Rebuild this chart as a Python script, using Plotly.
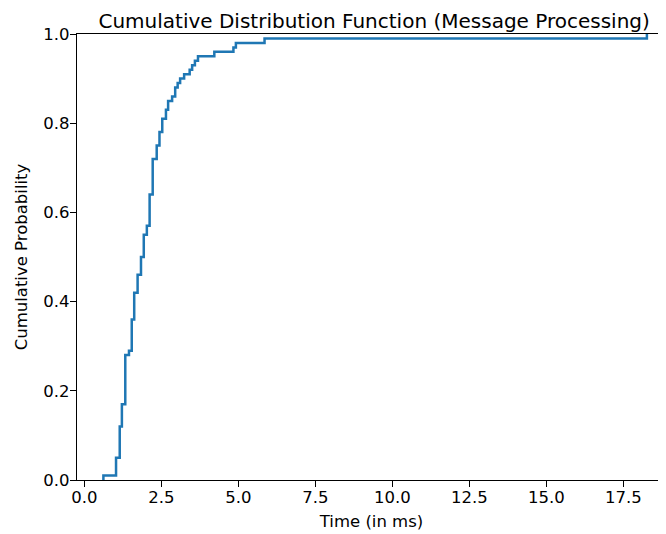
import plotly.graph_objects as go

# Step positions of the empirical CDF (time in ms) and the cumulative probability after each step
time_ms = [0.62, 1.03, 1.15, 1.22, 1.33, 1.45, 1.54, 1.62, 1.73, 1.84, 1.93, 2.03,
           2.12, 2.22, 2.35, 2.44, 2.53, 2.65, 2.72, 2.85, 2.95, 3.03, 3.11, 3.24,
           3.42, 3.50, 3.59, 3.69, 4.22, 4.84, 4.92, 5.85, 18.26]
cum_prob = [0.01, 0.05, 0.12, 0.17, 0.28, 0.29, 0.36, 0.42, 0.46, 0.50, 0.55, 0.57,
            0.64, 0.72, 0.75, 0.78, 0.81, 0.83, 0.85, 0.86, 0.88, 0.89, 0.90, 0.91,
            0.92, 0.93, 0.94, 0.95, 0.96, 0.97, 0.98, 0.99, 1.00]

x_ticks = [0.0, 2.5, 5.0, 7.5, 10.0, 12.5, 15.0, 17.5]
y_ticks = [0.0, 0.2, 0.4, 0.6, 0.8, 1.0]

xs = [time_ms[0]] + time_ms
ys = [0.0] + cum_prob

FONT = "DejaVu Sans"

fig = go.Figure()
fig.add_trace(go.Scatter(
    x=xs, y=ys, mode="lines",
    line=dict(shape="hv", color="#1f77b4", width=2.5),
    hoverinfo="skip", showlegend=False,
))

axis_common = dict(
    showgrid=False, zeroline=False, automargin=False,
    showline=True, linecolor="black", linewidth=1.3,
    ticks="outside", ticklen=6, tickwidth=1.3, tickcolor="black",
    tickfont=dict(family=FONT, size=16.5, color="black"),
    tickformat=".1f",
)

# The page body has an 8px default margin, so the figure is sized/offset to compensate.
fig.update_layout(
    width=658, height=526,
    margin=dict(l=69, r=0, t=26, b=54, autoexpand=False),
    paper_bgcolor="white", plot_bgcolor="white",
    font=dict(family=FONT, color="black"),
    title=dict(
        text="Cumulative Distribution Function (Message Processing)",
        font=dict(family=FONT, size=20, color="black"),
        x=0.5045, xref="paper", xanchor="center",
        y=1, yref="paper", yanchor="bottom",
        pad=dict(b=6), automargin=False,
    ),
    xaxis=dict(
        axis_common, range=[-0.237, 18.88], tickvals=x_ticks, mirror=True,
        ticklabelstandoff=-4,
        title=dict(text="Time (in ms)", font=dict(family=FONT, size=16.5, color="black"), standoff=9),
    ),
    yaxis=dict(
        axis_common, range=[0, 1], tickvals=y_ticks,
        ticklabelstandoff=-3,
        title=dict(text="Cumulative Probability", font=dict(family=FONT, size=16.5, color="black"), standoff=11),
    ),
)

fig.write_html("out.html")
